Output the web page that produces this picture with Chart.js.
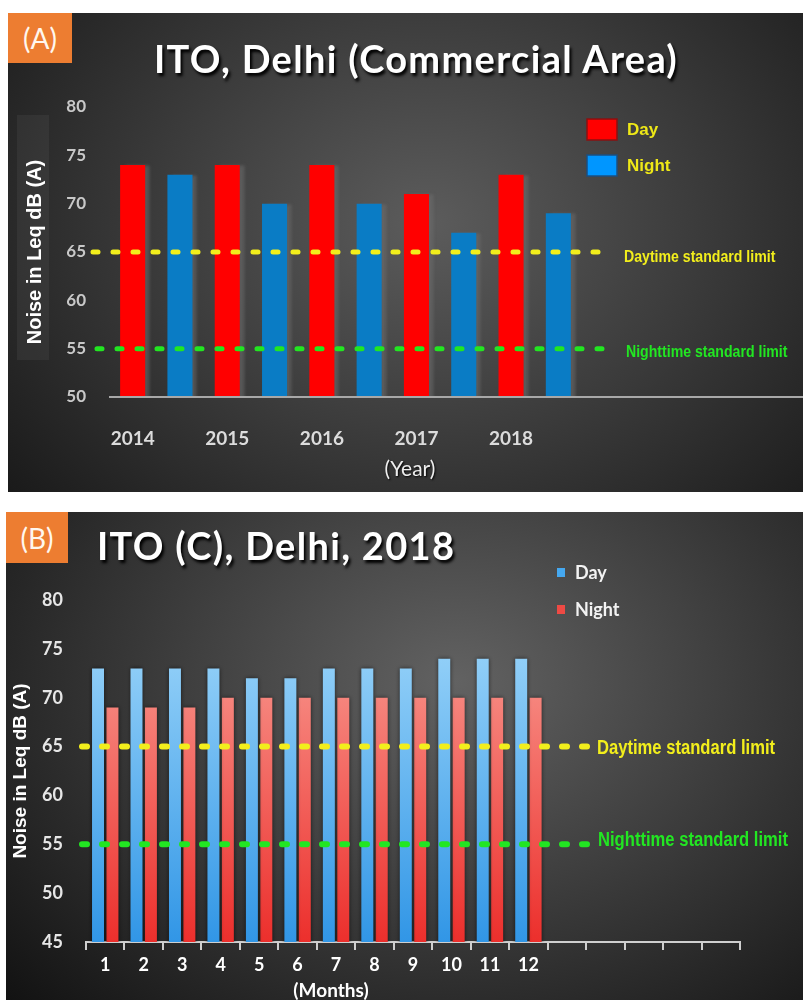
<!DOCTYPE html>
<html>
<head>
<meta charset="utf-8">
<script src="https://cdn.jsdelivr.net/npm/chart.js@4.4.0/dist/chart.umd.min.js"></script>
<style>
  body { margin: 0; background: #fff; width: 803px; height: 1000px; position: relative; overflow: hidden; }
  canvas { position: absolute; }
  #chartA { left: 8px; top: 13px; }
  #chartB { left: 6px; top: 512px; }
  .tag { position: absolute; background: #ED7D31; color: #fff7ee; font-family: Lato, sans-serif; font-size: 28px;
         display: flex; align-items: center; justify-content: center; }
  #tagA { left: 8px; top: 13px; width: 64px; height: 50px; }
  #tagB { left: 6px; top: 512px; width: 62px; height: 51px; }
  .txt { position: absolute; white-space: nowrap; font-family: Lato, sans-serif; transform: translate(-50%, -50%); }
  .title { color: #fff; font-weight: bold; font-size: 38px; letter-spacing: 1.3px; text-shadow: 2px 3px 3px #000; }
  #titleA { left: 416px; top: 58px; }
  #titleB { left: 97px; top: 545px; transform: translate(0, -50%); }
  #yearLbl { left: 410px; top: 467px; color: #eee; font-size: 21px; text-shadow: 1px 1px 2px #000; }
  #monthLbl { left: 331px; top: 989px; color: #fff; font-size: 19px; font-weight: bold; }
</style>
</head>
<body>
<canvas id="chartA" width="795" height="479"></canvas>
<canvas id="chartB" width="797" height="488"></canvas>
<div class="tag" id="tagA">(A)</div>
<div class="tag" id="tagB">(B)</div>
<div class="txt title" id="titleA">ITO, Delhi (Commercial Area)</div>
<div class="txt title" id="titleB">ITO (C), Delhi, 2018</div>
<div class="txt" id="yearLbl">(Year)</div>
<div class="txt" id="monthLbl">(Months)</div>

<script>
// panel A - yearly
const years = ["2014", "2015", "2016", "2017", "2018"];
const dayA = [74, 74, 74, 71, 73];
const nightA = [73, 70, 70, 67, 69];

// panel B - monthly 2018
const months = ["1", "2", "3", "4", "5", "6", "7", "8", "9", "10", "11", "12"];
const dayB = [73, 73, 73, 73, 72, 72, 73, 73, 73, 74, 74, 74];
const nightB = [69, 69, 69, 70, 70, 70, 70, 70, 70, 70, 70, 70];

const limits = [65, 55];
const limitLabels = ["Daytime standard limit", "Nighttime standard limit"];
const limitColors = ["#F2EE1C", "#22E622"];

const yTitle = "Noise in Leq dB (A)";

// dark radial background behind everything
const backdrop = {
  id: "backdrop",
  beforeDraw(chart, args, opts) {
    const ctx = chart.ctx;
    const w = chart.width, h = chart.height;
    ctx.save();
    ctx.fillStyle = opts.edge;
    ctx.fillRect(0, 0, w, h);
    ctx.translate(opts.cx, opts.cy);
    ctx.scale(opts.sx, 1);
    const g = ctx.createRadialGradient(0, 0, 0, 0, 0, opts.r);
    g.addColorStop(0, opts.inner);
    g.addColorStop(0.45, opts.mid);
    g.addColorStop(1, opts.edge);
    ctx.fillStyle = g;
    ctx.fillRect(-opts.cx / opts.sx, -opts.cy, w / opts.sx, h);
    ctx.restore();
    if (opts.box) {
      ctx.fillStyle = "rgba(255,255,255,0.05)";
      ctx.fillRect(opts.box[0], opts.box[1], opts.box[2], opts.box[3]);
    }
  }
};

const barShadow = {
  id: "barShadow",
  beforeDatasetsDraw(chart, args, opts) {
    const ctx = chart.ctx;
    ctx.save();
    ctx.shadowColor = opts.color;
    ctx.shadowBlur = opts.blur;
    ctx.shadowOffsetX = opts.dx;
    ctx.shadowOffsetY = 0;
  },
  afterDatasetsDraw(chart) {
    chart.ctx.restore();
  }
};

// dotted limit lines with their labels
const limitLines = {
  id: "limitLines",
  afterDatasetsDraw(chart, args, opts) {
    const ctx = chart.ctx;
    const y = chart.scales.y;
    if (opts.baseline) {
      const by = y.getPixelForValue(y.min);
      ctx.save();
      ctx.strokeStyle = "#a8a8a8";
      ctx.lineWidth = 2;
      ctx.beginPath();
      ctx.moveTo(chart.chartArea.left, by);
      ctx.lineTo(chart.width, by);
      ctx.stroke();
      ctx.restore();
    }
    limits.forEach((v, i) => {
      const py = y.getPixelForValue(v);
      ctx.save();
      ctx.strokeStyle = limitColors[i];
      ctx.lineWidth = opts.width;
      ctx.lineCap = "round";
      ctx.setLineDash(opts.dash);
      ctx.beginPath();
      ctx.moveTo(opts.x0[i], py);
      ctx.lineTo(opts.x1[i], py);
      ctx.stroke();
      ctx.setLineDash([]);
      // narrow bold text
      ctx.translate(opts.labelX[i], py + opts.dy[i]);
      ctx.scale(0.83, 1);
      ctx.fillStyle = limitColors[i];
      ctx.font = opts.font;
      ctx.textBaseline = "middle";
      ctx.fillText(limitLabels[i], 0, 0);
      ctx.restore();
    });
  }
};

const boxLegend = {
  id: "boxLegend",
  afterDraw(chart, args, opts) {
    const ctx = chart.ctx;
    chart.data.datasets.forEach((ds, i) => {
      const top = opts.y + i * opts.gap;
      ctx.save();
      ctx.fillStyle = opts.fill[i];
      ctx.fillRect(opts.x, top, opts.w, opts.h);
      if (opts.stroke) {
        ctx.strokeStyle = opts.stroke[i];
        ctx.lineWidth = 1.5;
        ctx.strokeRect(opts.x, top, opts.w, opts.h);
      }
      ctx.fillStyle = opts.color;
      ctx.font = opts.font;
      ctx.textBaseline = "middle";
      ctx.fillText(ds.label, opts.textX, top + opts.h / 2 + 1);
      ctx.restore();
    });
  }
};

function barFill(chart, top, bottom) {
  const area = chart.chartArea;
  if (!area) return bottom;
  const g = chart.ctx.createLinearGradient(0, area.top + 50, 0, area.bottom);
  g.addColorStop(0, top);
  g.addColorStop(1, bottom);
  return g;
}

new Chart(document.getElementById("chartA"), {
  type: "bar",
  data: {
    labels: years,
    datasets: [
      { label: "Day", data: dayA, backgroundColor: "#FF0000" },
      { label: "Night", data: nightA, backgroundColor: "#0A7CC5" }
    ]
  },
  options: {
    responsive: false,
    animation: false,
    events: [],
    categoryPercentage: 1,
    barPercentage: 0.53,
    layout: { padding: { top: 94, right: 221, bottom: 0, left: 0 } },
    scales: {
      x: {
        grid: { display: false, drawTicks: false },
        border: { display: false },
        ticks: { color: "#dcdcdc", font: { family: "Lato", weight: "bold", size: 19 }, padding: 30, labelOffset: -23.6 },
        afterFit: (s) => { s.height = 95; }
      },
      y: {
        min: 50,
        max: 80,
        ticks: { stepSize: 5, color: "#c8c8c8", font: { family: "Lato", weight: "bold", size: 17 }, padding: 23 },
        grid: { display: false, drawTicks: false },
        border: { display: false },
        title: {
          display: true, text: yTitle, color: "#fff",
          font: { family: "Liberation Sans", weight: "bold", size: 20 }, padding: { top: 15, bottom: 0 }
        },
        afterFit: (s) => { s.width = 101; }
      }
    },
    plugins: {
      legend: { display: false },
      tooltip: { enabled: false },
      backdrop: { cx: 420, cy: 210, sx: 1.25, r: 470, inner: "#5c5c5c", mid: "#3c3c3c", edge: "#141414", box: [9, 102, 32, 245] },
      barShadow: { color: "rgba(110,110,110,0.55)", blur: 3, dx: 5 },
      limitLines: {
        baseline: true, width: 5, dash: [5, 15],
        x0: [85, 89], x1: [600, 605], labelX: [616, 618], dy: [5, 4],
        font: "bold 17px 'Liberation Sans', Arial, sans-serif"
      },
      boxLegend: {
        x: 579, y: 106, w: 30, h: 21, gap: 36, textX: 619,
        fill: ["#FF0000", "#0096FF"], stroke: ["#8a1010", "#1d4f80"],
        color: "#EEE817", font: "bold 17px 'Liberation Sans', Arial, sans-serif"
      }
    }
  },
  plugins: [backdrop, barShadow, limitLines, boxLegend]
});

new Chart(document.getElementById("chartB"), {
  type: "bar",
  data: {
    labels: months.concat(["", "", "", "", ""]),
    datasets: [
      { label: "Day", data: dayB, backgroundColor: (c) => barFill(c.chart, "#93D0F8", "#3196E6") },
      { label: "Night", data: nightB, backgroundColor: (c) => barFill(c.chart, "#F8958C", "#EC2F2C") }
    ]
  },
  options: {
    responsive: false,
    animation: false,
    events: [],
    categoryPercentage: 0.75,
    barPercentage: 0.83,
    layout: { padding: { top: 88, right: 63, bottom: 0, left: 0 } },
    scales: {
      x: {
        grid: { display: true, drawOnChartArea: false, drawTicks: true, tickLength: 8, color: "#cfcfcf", lineWidth: 2 },
        border: { display: true, color: "#cfcfcf", width: 2 },
        ticks: { color: "#ffffff", font: { family: "Lato", weight: "bold", size: 18 }, padding: 4 },
        afterFit: (s) => { s.height = 58; }
      },
      y: {
        min: 45,
        max: 80,
        ticks: { stepSize: 5, color: "#e6e6e6", font: { family: "Lato", weight: "bold", size: 18 }, padding: 23 },
        grid: { display: false, drawTicks: false },
        border: { display: false },
        title: {
          display: true, text: yTitle, color: "#fff",
          font: { family: "Liberation Sans", weight: "bold", size: 19 }, padding: { top: 3, bottom: 0 }
        },
        afterFit: (s) => { s.width = 80; }
      }
    },
    plugins: {
      legend: { display: false },
      tooltip: { enabled: false },
      backdrop: { cx: 450, cy: 170, sx: 1.3, r: 470, inner: "#626262", mid: "#3e3e3e", edge: "#121212" },
      barShadow: { color: "rgba(0,0,0,0.6)", blur: 4, dx: 0 },
      limitLines: {
        baseline: false, width: 6, dash: [5, 15],
        x0: [76, 76], x1: [583, 583], labelX: [591, 592], dy: [2, -4],
        font: "bold 20px 'Liberation Sans', Arial, sans-serif"
      },
      boxLegend: {
        x: 551, y: 56, w: 8, h: 9, gap: 37, textX: 569,
        fill: ["#45A8F0", "#EE4A44"],
        color: "#f2f2f2", font: "bold 18px Lato, sans-serif"
      }
    }
  },
  plugins: [backdrop, barShadow, limitLines, boxLegend]
});
</script>
</body>
</html>
